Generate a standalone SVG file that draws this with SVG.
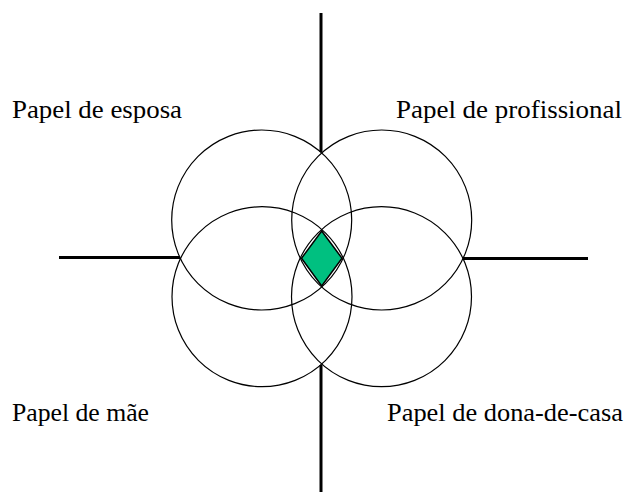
<svg xmlns="http://www.w3.org/2000/svg" width="628" height="493" viewBox="0 0 628 493">
<style>
.circle{fill:none;stroke:#000;stroke-width:1.2}
.axis{stroke:#000;stroke-width:3;fill:none}
.label{font-family:"Liberation Serif","Times New Roman",serif;font-size:25px;fill:#000}
.core{fill:#00C080;stroke:#000;stroke-width:1.5;stroke-linejoin:miter}
</style>
<rect width="628" height="493" fill="#fff"/>
<g id="connectors">
<line class="axis" x1="321" y1="13" x2="321" y2="152"/>
<line class="axis" x1="321" y1="365" x2="321" y2="492"/>
<line class="axis" x1="59" y1="257.5" x2="180" y2="257.5"/>
<line class="axis" x1="463" y1="258.5" x2="588" y2="258.5"/>
</g>
<g id="circle-esposa"><circle class="circle" cx="261.7" cy="220" r="90"/></g>
<g id="circle-profissional"><circle class="circle" cx="381.7" cy="220" r="90"/></g>
<g id="circle-mae"><circle class="circle" cx="262" cy="296.7" r="90"/></g>
<g id="circle-dona"><circle class="circle" cx="381.5" cy="296.7" r="90"/></g>
<g id="core"><polygon class="core" points="321.7,231 342,258.3 321.7,286 301.5,258.3"/></g>
<g id="label-esposa"><text class="label" x="12" y="118" textLength="170" lengthAdjust="spacingAndGlyphs">Papel de esposa</text></g>
<g id="label-profissional"><text class="label" x="396" y="118" textLength="226" lengthAdjust="spacingAndGlyphs">Papel de profissional</text></g>
<g id="label-mae"><text class="label" x="12" y="421" textLength="137" lengthAdjust="spacingAndGlyphs">Papel de mãe</text></g>
<g id="label-dona"><text class="label" x="387" y="421" textLength="236" lengthAdjust="spacingAndGlyphs">Papel de dona-de-casa</text></g>
</svg>
